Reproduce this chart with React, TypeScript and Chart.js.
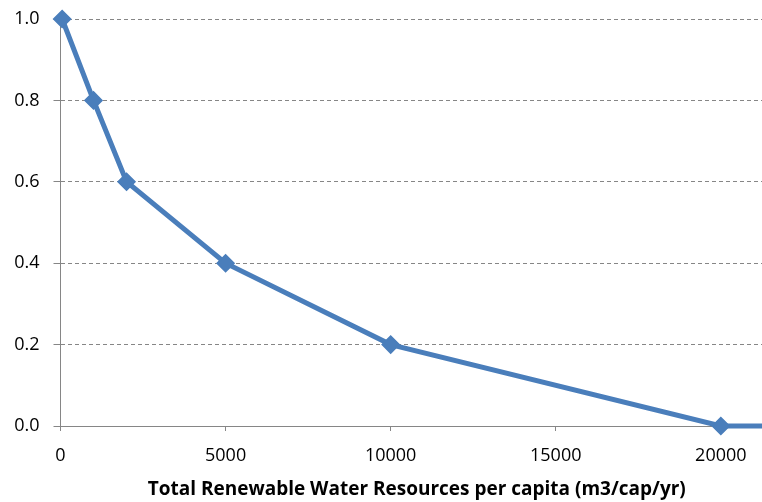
import React, { useEffect, useRef } from "react";
import { Chart, registerables } from "chart.js";

Chart.register(...registerables);

const waterResources = [50, 1000, 2000, 5000, 10000, 20000, 25000];
const indexValues = [1.0, 0.8, 0.6, 0.4, 0.2, 0.0, 0.0];
const xTickValues = [0, 5000, 10000, 15000, 20000];
const yTickValues = [0, 0.2, 0.4, 0.6, 0.8, 1.0];
const xTitle = "Total Renewable Water Resources per capita (m3/cap/yr)";

const FONT = "'Open Sans', sans-serif";
const BLUE = "#4A7EBB";
const GRAY = "#868686";

export default function App() {
  const ref = useRef<HTMLCanvasElement | null>(null);

  useEffect(() => {
    if (!ref.current) return;
    const chart = new Chart(ref.current, {
      type: "line",
      data: {
        datasets: [
          {
            data: waterResources.map((x, i) => ({ x, y: indexValues[i] })),
            borderColor: BLUE,
            backgroundColor: BLUE,
            borderWidth: 5,
            pointStyle: "rectRot",
            pointRadius: 8.5,
            pointHoverRadius: 8.5,
            pointBorderWidth: 1.5,
            pointBackgroundColor: BLUE,
            pointBorderColor: BLUE,
            tension: 0,
            clip: { left: 12, top: 12, right: 0, bottom: 12 } as any,
          },
        ],
      },
      options: {
        responsive: false,
        animation: false,
        devicePixelRatio: 1,
        layout: { padding: { top: 19, left: 0, right: 0, bottom: 0 } },
        plugins: { legend: { display: false }, tooltip: { enabled: false } },
        scales: {
          x: {
            type: "linear",
            min: 0,
            max: 21580,
            afterBuildTicks: (scale: any) => {
              scale.ticks = xTickValues.map((v) => ({ value: v }));
            },
            afterFit: (scale: any) => {
              scale.height = 76;
              scale.paddingLeft = 0;
              scale.paddingRight = 0;
            },
            ticks: {
              color: "#000",
              font: { family: FONT, size: 18 },
              padding: 14,
              maxRotation: 0,
              callback: (v: any) => String(v),
            },
            grid: {
              drawOnChartArea: false,
              drawTicks: true,
              tickLength: 5,
              tickColor: GRAY,
              tickWidth: 1,
            },
            border: { display: true, color: GRAY, width: 1 },
            title: {
              display: true,
              text: xTitle,
              color: "#000",
              font: { family: FONT, size: 19, weight: "bold" },
              padding: { top: 4, bottom: 1 },
            },
          },
          y: {
            type: "linear",
            min: 0,
            max: 1,
            afterBuildTicks: (scale: any) => {
              scale.ticks = yTickValues.map((v) => ({ value: v }));
            },
            afterFit: (scale: any) => {
              scale.width = 60.5;
              scale.paddingTop = 0;
              scale.paddingBottom = 0;
            },
            ticks: {
              color: "#000",
              font: { family: FONT, size: 18 },
              padding: 14,
              callback: (v: any) => Number(v).toFixed(1),
            },
            grid: {
              color: GRAY,
              lineWidth: 1,
              drawTicks: true,
              tickLength: 7,
              tickColor: GRAY,
              tickBorderDash: [],
              borderDash: [4, 3],
            } as any,
            border: { display: true, color: GRAY, width: 1, dash: [4, 3] } as any,
          },
        },
      },
    });
    return () => chart.destroy();
  }, []);

  return (
    <div
      style={{
        position: "fixed",
        left: 0,
        top: 0,
        width: 762,
        height: 502,
        overflow: "hidden",
        background: "#fff",
      }}
    >
      <canvas ref={ref} width={783} height={502} style={{ display: "block" }} />
    </div>
  );
}
